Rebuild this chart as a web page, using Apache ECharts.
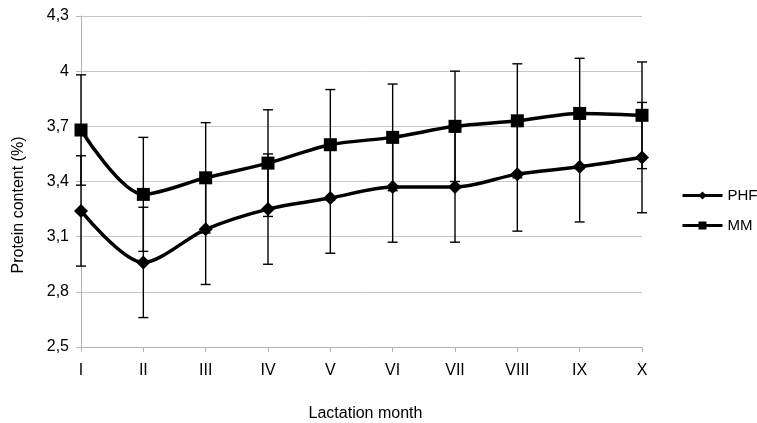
<!DOCTYPE html>
<html>
<head>
<meta charset="utf-8">
<script src="https://cdn.jsdelivr.net/npm/echarts@6/dist/echarts.min.js"></script>
<style>
    html, body { margin: 0; padding: 0; background: #fff; }
    #chart { width: 757px; height: 423px; }
</style>
</head>
<body>
<div id="chart"></div>
<script>
// 月份
let months = ['I', 'II', 'III', 'IV', 'V', 'VI', 'VII', 'VIII', 'IX', 'X']
// 蛋白质含量 (%)
let phf = [3.24, 2.96, 3.14, 3.25, 3.31, 3.37, 3.37, 3.44, 3.48, 3.53]
let mm = [3.68, 3.33, 3.42, 3.50, 3.60, 3.64, 3.70, 3.73, 3.77, 3.76]
// 误差 (±)
let phfErr = [0.30, 0.30, 0.30, 0.30, 0.30, 0.30, 0.30, 0.31, 0.30, 0.30]
let mmErr = [0.30, 0.31, 0.30, 0.29, 0.30, 0.29, 0.30, 0.31, 0.30, 0.29]
let yTicks = [2.5, 2.8, 3.1, 3.4, 3.7, 4, 4.3]

function errData(vals, errs) {
    return vals.map((v, i) => [i, v - errs[i], v + errs[i]])
}

function renderErr(params, api) {
    let x = api.value(0)
    let lo = api.coord([x, api.value(1)])
    let hi = api.coord([x, api.value(2)])
    let w = 5
    let style = { stroke: '#000', lineWidth: 1.4 }
    return {
        type: 'group',
        children: [
            { type: 'line', shape: { x1: lo[0], y1: lo[1], x2: hi[0], y2: hi[1] }, style: style },
            { type: 'line', shape: { x1: lo[0] - w, y1: lo[1], x2: lo[0] + w, y2: lo[1] }, style: style },
            { type: 'line', shape: { x1: hi[0] - w, y1: hi[1], x2: hi[0] + w, y2: hi[1] }, style: style }
        ]
    }
}

let myChart = echarts.init(document.getElementById('chart'))
let font = 'Liberation Sans, Arial, sans-serif'
let option = {
    animation: false,
    textStyle: { fontFamily: font },
    grid: { left: 81, right: 115, top: 16, bottom: 76, outerBoundsMode: 'none' },
    // Y轴标题 (位置比轴中心略低)
    graphic: [{
        type: 'text',
        x: 19,
        y: 205,
        rotation: Math.PI / 2,
        style: {
            text: 'Protein content (%)',
            fontSize: 16,
            fontFamily: font,
            fill: '#000',
            align: 'center',
            verticalAlign: 'middle'
        }
    }],
    legend: {
        data: ['PHF', 'MM'],
        orient: 'vertical',
        left: 681,
        top: 188,
        padding: 0,
        itemWidth: 40,
        itemHeight: 10,
        itemGap: 15,
        lineStyle: { width: 3 },
        textStyle: { fontSize: 15, color: '#000', fontFamily: font }
    },
    xAxis: {
        type: 'category',
        data: months,
        boundaryGap: false,
        name: 'Lactation month',
        nameLocation: 'middle',
        nameGap: 59,
        nameTextStyle: { fontSize: 16, color: '#000', padding: [0, 0, 0, 8] },
        axisLine: { lineStyle: { color: '#b4b4b4', width: 1 } },
        axisTick: { alignWithLabel: true, length: 5, lineStyle: { color: '#b4b4b4' } },
        axisLabel: { fontSize: 16, color: '#000', margin: 16 },
        splitLine: { show: false }
    },
    yAxis: {
        type: 'value',
        min: yTicks[0],
        max: yTicks[yTicks.length - 1],
        interval: 0.3,
        axisLine: { show: true, lineStyle: { color: '#b4b4b4', width: 1 } },
        axisTick: { show: true, length: 5, lineStyle: { color: '#b4b4b4' } },
        axisLabel: {
            fontSize: 16,
            color: '#000',
            margin: 12,
            formatter: v => String(Number(v.toFixed(1))).replace('.', ',')
        },
        splitLine: { lineStyle: { color: '#c8c8c8', width: 1 } }
    },
    series: [
        {
            name: 'PHF',
            type: 'line',
            data: phf,
            smooth: 0.3,
            symbol: 'diamond',
            symbolSize: 14,
            itemStyle: { color: '#000' },
            lineStyle: { color: '#000', width: 3.5 },
            z: 3
        },
        {
            name: 'MM',
            type: 'line',
            data: mm,
            smooth: 0.3,
            symbol: 'rect',
            symbolSize: 13,
            itemStyle: { color: '#000' },
            lineStyle: { color: '#000', width: 3.5 },
            z: 3
        },
        {
            type: 'custom',
            data: errData(phf, phfErr),
            renderItem: renderErr,
            encode: { x: 0, y: [1, 2] },
            z: 4
        },
        {
            type: 'custom',
            data: errData(mm, mmErr),
            renderItem: renderErr,
            encode: { x: 0, y: [1, 2] },
            z: 4
        }
    ]
}
myChart.setOption(option)
</script>
</body>
</html>
